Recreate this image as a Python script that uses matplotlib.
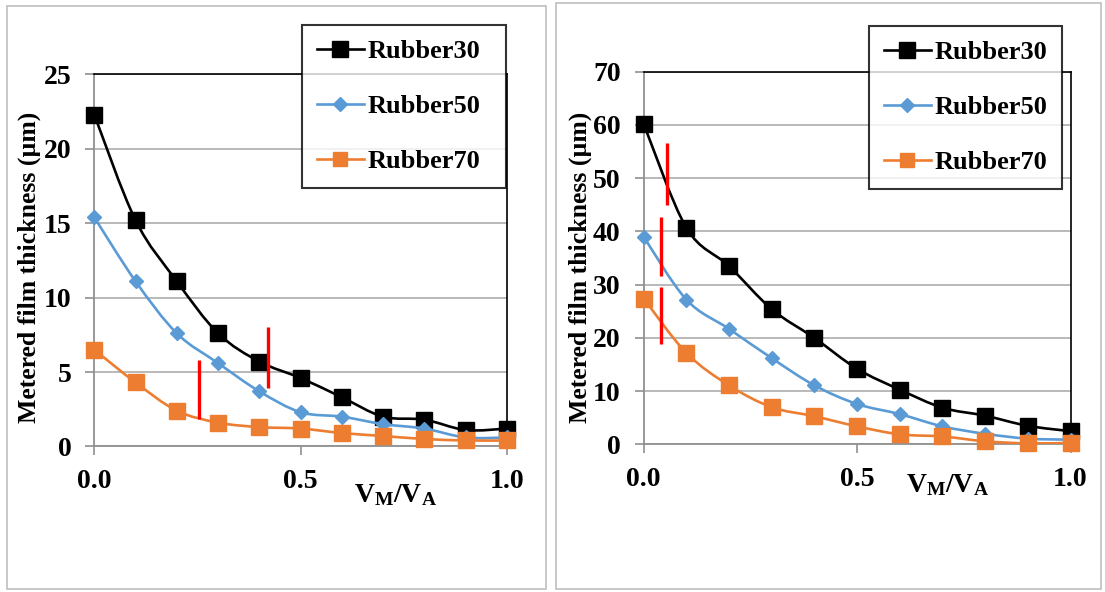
import matplotlib
matplotlib.use("Agg")
import matplotlib.pyplot as plt
from matplotlib.path import Path
from matplotlib.patches import PathPatch, Rectangle
from matplotlib.lines import Line2D

plt.rcParams['font.family'] = ['Liberation Serif', 'DejaVu Serif']
plt.rcParams['font.weight'] = 'bold'
plt.rcParams['mathtext.fontset'] = 'custom'
plt.rcParams['mathtext.rm'] = 'Liberation Serif:bold'
plt.rcParams['mathtext.bf'] = 'Liberation Serif:bold'
plt.rcParams['mathtext.it'] = 'Liberation Serif:bold'

# volume ratio V_M/V_A
ratio = [0.0, 0.1, 0.2, 0.3, 0.4, 0.5, 0.6, 0.7, 0.8, 0.9, 1.0]
series_names = ['Rubber30', 'Rubber50', 'Rubber70']

# metered film thickness (um), left panel
left_r30 = [22.3, 15.2, 11.1, 7.6, 5.7, 4.6, 3.3, 2.0, 1.8, 1.1, 1.2]
left_r50 = [15.4, 11.1, 7.6, 5.6, 3.7, 2.3, 2.0, 1.5, 1.2, 0.6, 0.6]
left_r70 = [6.5, 4.3, 2.4, 1.6, 1.3, 1.2, 0.9, 0.7, 0.5, 0.4, 0.4]

# metered film thickness (um), right panel
right_r30 = [60.2, 40.7, 33.5, 25.4, 20.0, 14.2, 10.3, 6.9, 5.4, 3.5, 2.5]
right_r50 = [39.0, 27.2, 21.7, 16.2, 11.1, 7.6, 5.7, 3.4, 2.0, 1.1, 0.9]
right_r70 = [27.4, 17.2, 11.1, 7.0, 5.3, 3.4, 1.9, 1.5, 0.6, 0.2, 0.3]

# red transition markers (x, y bottom, y top)
left_mark_x = [0.255, 0.421]
left_mark_lo = [1.85, 3.9]
left_mark_hi = [5.8, 8.0]
right_mark_x = [0.055, 0.041, 0.041]
right_mark_lo = [44.9, 31.7, 18.9]
right_mark_hi = [56.6, 42.7, 29.6]

left_ticks = [0, 5, 10, 15, 20, 25]
right_ticks = [0, 10, 20, 30, 40, 50, 60, 70]
x_ticks = [0.0, 0.5, 1.0]

colors = ['black', '#5B9BD5', '#ED7D31']
markers = ['s', 'D', 's']
msizes = [12, 7.5, 11]
FS = 20


def smooth_path(x, y):
    # Catmull-Rom segments as cubic Beziers (spreadsheet style smoothing)
    verts = [(x[0], y[0])]
    codes = [Path.MOVETO]
    n = len(x)
    for i in range(n - 1):
        x0, y0 = (x[i - 1], y[i - 1]) if i > 0 else (x[i], y[i])
        x3, y3 = (x[i + 2], y[i + 2]) if i + 2 < n else (x[i + 1], y[i + 1])
        c1 = (x[i] + (x[i + 1] - x0) / 6, y[i] + (y[i + 1] - y0) / 6)
        c2 = (x[i + 1] - (x3 - x[i]) / 6, y[i + 1] - (y3 - y[i]) / 6)
        verts += [c1, c2, (x[i + 1], y[i + 1])]
        codes += [Path.CURVE4] * 3
    return Path(verts, codes)


def draw_panel(ax, data, ymax, yticks, mx, mlo, mhi, xlab_pos, ylab_pos):
    for i, ys in enumerate(data):
        ax.add_patch(PathPatch(smooth_path(ratio, ys), fill=False,
                               edgecolor=colors[i], lw=1.9, zorder=3 + i))
        ax.plot(ratio, ys, linestyle='none', marker=markers[i], ms=msizes[i],
                color=colors[i], zorder=3 + i, clip_on=False)
    ax.vlines(mx, mlo, mhi, color='red', lw=2.4, zorder=10)

    ax.set_xlim(0, 1)
    ax.set_ylim(0, ymax)
    ax.set_xticks(x_ticks)
    ax.set_xticklabels([f'{t:.1f}' for t in x_ticks])
    ax.set_yticks(yticks)
    ax.grid(axis='y', color='#A6A6A6', lw=1.1)
    ax.set_axisbelow(True)
    for side in ['top', 'right']:
        ax.spines[side].set_color('black')
        ax.spines[side].set_linewidth(1.2)
    for side in ['left', 'bottom']:
        ax.spines[side].set_color('#909090')
        ax.spines[side].set_linewidth(1.3)
    ax.tick_params(axis='both', colors='#909090', width=1.2, length=6.5,
                   labelsize=FS, labelcolor='black')
    ax.tick_params(axis='y', pad=10)
    ax.tick_params(axis='x', pad=10)

    ax.set_ylabel('Metered film thickness (µm)', fontsize=18.5, fontweight='bold')
    ax.yaxis.set_label_coords(*ylab_pos)
    ax.set_xlabel(r'$\mathbf{V_M/V_A}$', fontsize=FS)
    ax.xaxis.set_label_coords(*xlab_pos)


fig = plt.figure(figsize=(11.05, 5.92), dpi=100)

# panel frames
fig.add_artist(Rectangle((7 / 1105, 1 - 589 / 592), 539 / 1105, 583 / 592,
                         transform=fig.transFigure, fill=False,
                         edgecolor='#BFBFBF', lw=1.2))
fig.add_artist(Rectangle((556 / 1105, 1 - 589 / 592), 545 / 1105, 586 / 592,
                         transform=fig.transFigure, fill=False,
                         edgecolor='#BFBFBF', lw=1.2))

ax1 = fig.add_axes([0.0853, 0.2459, 0.3735, 0.6284])
ax2 = fig.add_axes([0.5825, 0.2492, 0.3863, 0.6297])

draw_panel(ax1, [left_r30, left_r50, left_r70], 25, left_ticks,
           left_mark_x, left_mark_lo, left_mark_hi, (0.731, -0.095), (-0.128, 0.48))
draw_panel(ax2, [right_r30, right_r50, right_r70], 70, right_ticks,
           right_mark_x, right_mark_lo, right_mark_hi, (0.713, -0.075), (-0.12, 0.476))

handles = [Line2D([], [], color=colors[i], lw=1.9, marker=markers[i],
                  ms=[11, 7.5, 10.5][i]) for i in range(3)]
for ax, x0, y0, w in [(ax1, 302, 25, 204), (ax2, 869, 26, 193)]:
    leg = ax.legend(handles, series_names, loc='upper left',
                    bbox_to_anchor=(x0 / 1105, 1 - y0 / 592, w / 1105, 0),
                    bbox_transform=fig.transFigure, mode='expand',
                    fontsize=19, frameon=True, fancybox=False,
                    handlelength=1.8, handletextpad=0.15, labelspacing=1.2,
                    borderpad=0.55, borderaxespad=0)
    leg.get_frame().set_edgecolor('black')
    leg.get_frame().set_linewidth(1.5)
    leg.set_zorder(20)

fig.savefig('out.png', dpi=100)
